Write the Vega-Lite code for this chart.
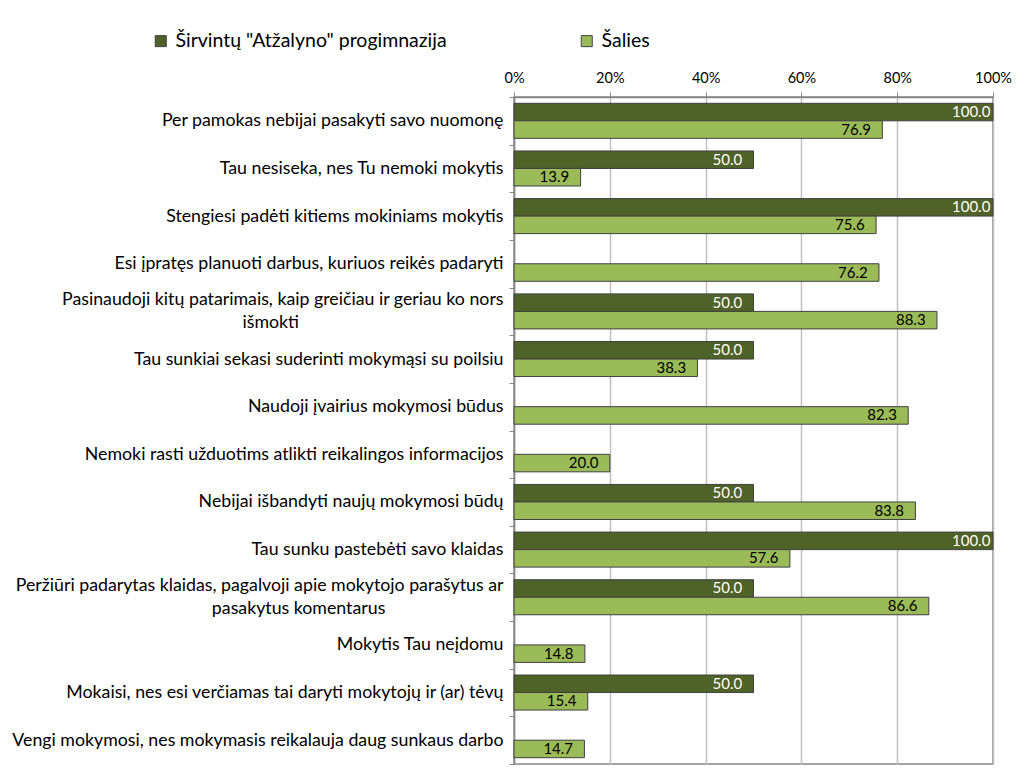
{
  "$schema": "https://vega.github.io/schema/vega-lite/v6.json",
  "width": 479,
  "height": 667,
  "autosize": {"type": "none"},
  "padding": {"left": 514, "top": 97, "right": 42, "bottom": 14},
  "background": "white",
  "config": {"font": "Lato", "view": {"stroke": "#868686", "strokeWidth": 1.5}},
  "data": {
    "values": [
      {"item": "Per pamokas nebijai pasakyti savo nuomonę", "series": "Širvintų \"Atžalyno\" progimnazija", "value": 100.0},
      {"item": "Per pamokas nebijai pasakyti savo nuomonę", "series": "Šalies", "value": 76.9},
      {"item": "Tau nesiseka, nes Tu nemoki mokytis", "series": "Širvintų \"Atžalyno\" progimnazija", "value": 50.0},
      {"item": "Tau nesiseka, nes Tu nemoki mokytis", "series": "Šalies", "value": 13.9},
      {"item": "Stengiesi padėti kitiems mokiniams mokytis", "series": "Širvintų \"Atžalyno\" progimnazija", "value": 100.0},
      {"item": "Stengiesi padėti kitiems mokiniams mokytis", "series": "Šalies", "value": 75.6},
      {"item": "Esi įpratęs planuoti darbus, kuriuos reikės padaryti", "series": "Šalies", "value": 76.2},
      {"item": "Pasinaudoji kitų patarimais, kaip greičiau ir geriau ko nors išmokti", "series": "Širvintų \"Atžalyno\" progimnazija", "value": 50.0},
      {"item": "Pasinaudoji kitų patarimais, kaip greičiau ir geriau ko nors išmokti", "series": "Šalies", "value": 88.3},
      {"item": "Tau sunkiai sekasi suderinti mokymąsi su poilsiu", "series": "Širvintų \"Atžalyno\" progimnazija", "value": 50.0},
      {"item": "Tau sunkiai sekasi suderinti mokymąsi su poilsiu", "series": "Šalies", "value": 38.3},
      {"item": "Naudoji įvairius mokymosi būdus", "series": "Šalies", "value": 82.3},
      {"item": "Nemoki rasti užduotims atlikti reikalingos informacijos", "series": "Šalies", "value": 20.0},
      {"item": "Nebijai išbandyti naujų mokymosi būdų", "series": "Širvintų \"Atžalyno\" progimnazija", "value": 50.0},
      {"item": "Nebijai išbandyti naujų mokymosi būdų", "series": "Šalies", "value": 83.8},
      {"item": "Tau sunku pastebėti savo klaidas", "series": "Širvintų \"Atžalyno\" progimnazija", "value": 100.0},
      {"item": "Tau sunku pastebėti savo klaidas", "series": "Šalies", "value": 57.6},
      {"item": "Peržiūri padarytas klaidas, pagalvoji apie mokytojo parašytus ar pasakytus komentarus", "series": "Širvintų \"Atžalyno\" progimnazija", "value": 50.0},
      {"item": "Peržiūri padarytas klaidas, pagalvoji apie mokytojo parašytus ar pasakytus komentarus", "series": "Šalies", "value": 86.6},
      {"item": "Mokytis Tau neįdomu", "series": "Šalies", "value": 14.8},
      {"item": "Mokaisi, nes esi verčiamas tai daryti mokytojų ir (ar) tėvų", "series": "Širvintų \"Atžalyno\" progimnazija", "value": 50.0},
      {"item": "Mokaisi, nes esi verčiamas tai daryti mokytojų ir (ar) tėvų", "series": "Šalies", "value": 15.4},
      {"item": "Vengi mokymosi, nes mokymasis reikalauja daug sunkaus darbo", "series": "Šalies", "value": 14.7}
    ]
  },
  "encoding": {
    "y": {
      "field": "item",
      "type": "nominal",
      "sort": null,
      "scale": {"paddingInner": 0, "paddingOuter": 0},
      "axis": {
        "title": null,
        "labelFontSize": 17.75,
        "labelColor": "black",
        "labelLimit": 0,
        "labelPadding": 6,
        "labelLineHeight": 11.5,
        "labelOffset": -11.5,
        "tickSize": 5,
        "tickBand": "extent",
        "tickColor": "#868686",
        "domainColor": "#868686",
        "domainWidth": 1.5,
        "grid": false,
        "labelExpr": "datum.label == 'Pasinaudoji kitų patarimais, kaip greičiau ir geriau ko nors išmokti' ? ['Pasinaudoji kitų patarimais, kaip greičiau ir geriau ko nors', '\u200b', 'išmokti\u00a0\u00a0\u00a0\u00a0\u00a0\u00a0\u00a0\u00a0\u00a0\u00a0\u00a0\u00a0\u00a0\u00a0\u00a0\u00a0\u00a0\u00a0\u00a0\u00a0\u00a0\u00a0\u00a0\u00a0\u00a0\u00a0\u00a0\u00a0\u00a0\u00a0\u00a0\u00a0\u00a0\u00a0\u00a0\u00a0\u00a0\u00a0\u00a0\u00a0\u00a0\u00a0\u00a0\u00a0\u00a0\u200b'] : datum.label == 'Peržiūri padarytas klaidas, pagalvoji apie mokytojo parašytus ar pasakytus komentarus' ? ['Peržiūri padarytas klaidas, pagalvoji apie mokytojo parašytus ar', '\u200b', 'pasakytus komentarus\u00a0\u00a0\u00a0\u00a0\u00a0\u00a0\u00a0\u00a0\u00a0\u00a0\u00a0\u00a0\u00a0\u00a0\u00a0\u00a0\u00a0\u00a0\u00a0\u00a0\u00a0\u00a0\u00a0\u00a0\u00a0\u00a0\u200b'] : ['\u200b', datum.label]"
      }
    },
    "yOffset": {
      "field": "series",
      "type": "nominal",
      "scale": {"domain": ["Širvintų \"Atžalyno\" progimnazija", "Šalies"], "paddingOuter": 0.36, "paddingInner": 0}
    },
    "x": {
      "field": "value",
      "type": "quantitative",
      "scale": {"domain": [0, 100]},
      "axis": {
        "orient": "top",
        "title": null,
        "values": [0, 20, 40, 60, 80, 100],
        "labelExpr": "datum.value + '%'",
        "labelFlush": false,
        "labelFontSize": 14.5,
        "labelColor": "black",
        "labelPadding": 7,
        "grid": true,
        "gridColor": "#c0c0c0",
        "gridWidth": 1.5,
        "tickSize": 5,
        "tickColor": "#868686",
        "domainColor": "#868686",
        "domainWidth": 1.5
      }
    }
  },
  "layer": [
    {
      "mark": {"type": "bar", "stroke": "#404040", "strokeWidth": 1},
      "encoding": {
        "color": {
          "field": "series",
          "type": "nominal",
          "scale": {"domain": ["Širvintų \"Atžalyno\" progimnazija", "Šalies"], "range": ["#4F6228", "#9BBB59"]},
          "legend": {
            "title": null,
            "orient": "none",
            "legendX": -363,
            "legendY": -66,
            "direction": "horizontal",
            "columnPadding": 130,
            "symbolType": "square",
            "symbolSize": 121,
            "symbolStrokeColor": "#404040",
            "symbolStrokeWidth": 1,
            "labelFontSize": 19.5,
            "labelColor": "black",
            "labelOffset": 5,
            "labelLimit": 0
          }
        }
      }
    },
    {
      "mark": {"type": "text", "align": "left", "dx": -41, "baseline": "middle", "fontSize": 15},
      "encoding": {
        "text": {"field": "value", "type": "quantitative", "format": ".1f"},
        "color": {"condition": {"test": "datum.series == 'Šalies'", "value": "black"}, "value": "white"}
      }
    }
  ]
}
